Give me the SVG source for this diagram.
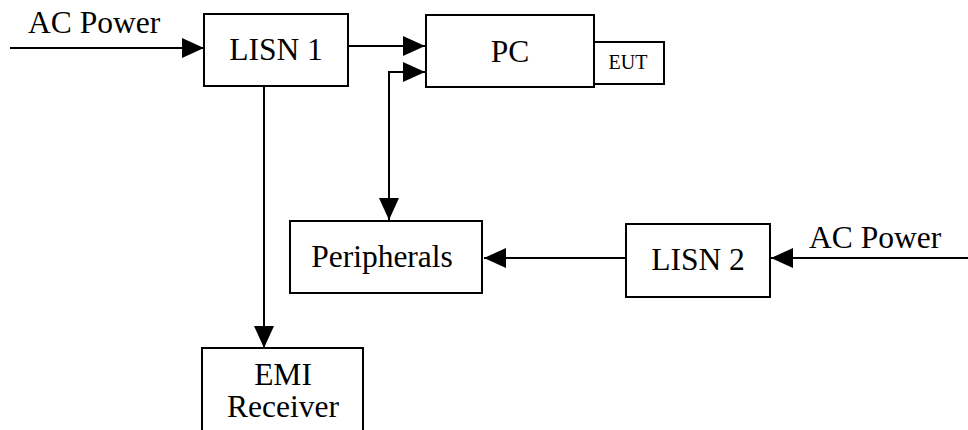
<svg xmlns="http://www.w3.org/2000/svg" width="968" height="430" viewBox="0 0 968 430">
<style>
.box{fill:#fff;stroke:#000;stroke-width:2}
.ln{fill:none;stroke:#000;stroke-width:2}
text{font-family:"Liberation Serif","Times New Roman",serif;font-size:31.5px;fill:#000}
.c{text-anchor:middle}
.s{font-size:20px}
</style>
<defs>
<marker id="ah" markerWidth="22" markerHeight="20" refX="22" refY="10" orient="auto" markerUnits="userSpaceOnUse">
<path d="M0,0 L22,10 L0,20 Z" fill="#000"/>
</marker>
</defs>
<g id="connectors">
<line class="ln" x1="10" y1="48" x2="204" y2="48" marker-end="url(#ah)"/>
<line class="ln" x1="348" y1="46" x2="425" y2="46" marker-end="url(#ah)"/>
<path class="ln" d="M389,220 L389,72 L425,72" marker-end="url(#ah)"/>
<line class="ln" x1="389" y1="100" x2="389" y2="220" marker-end="url(#ah)"/>
<line class="ln" x1="264" y1="86" x2="264" y2="348" marker-end="url(#ah)"/>
<line class="ln" x1="626" y1="258" x2="484" y2="258" marker-end="url(#ah)"/>
<line class="ln" x1="968" y1="258" x2="771" y2="258" marker-end="url(#ah)"/>
</g>
<g id="labels">
<text x="28" y="33">AC Power</text>
<text x="809" y="248">AC Power</text>
</g>
<g id="lisn1">
<rect class="box" x="204" y="14" width="144" height="72"/>
<text class="c" x="276" y="60">LISN 1</text>
</g>
<g id="pc">
<rect class="box" x="426" y="15" width="168" height="72"/>
<text class="c" x="510" y="62">PC</text>
</g>
<g id="eut">
<rect class="box" x="594" y="42" width="70" height="42"/>
<text class="c s" x="628" y="69">EUT</text>
</g>
<g id="peripherals">
<rect class="box" x="290" y="221" width="192" height="72"/>
<text class="c" x="382" y="267">Peripherals</text>
</g>
<g id="lisn2">
<rect class="box" x="626" y="224" width="144" height="73"/>
<text class="c" x="698" y="270">LISN 2</text>
</g>
<g id="emi">
<rect class="box" x="202" y="348" width="161" height="90"/>
<text class="c" x="283" y="385">EMI</text>
<text class="c" x="283" y="417">Receiver</text>
</g>
</svg>
